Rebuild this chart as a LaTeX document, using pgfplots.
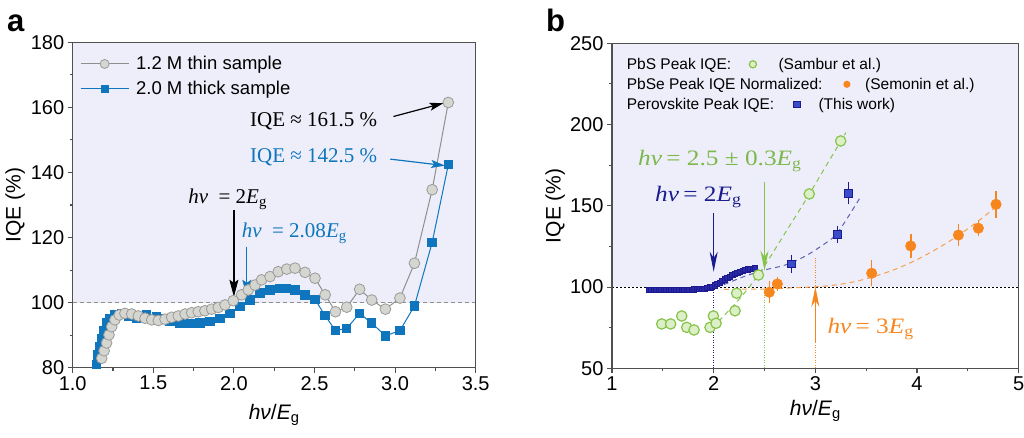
\documentclass[border=0pt]{standalone}
\usepackage{fontspec}
\setmainfont{Liberation Sans}
\newfontfamily\serif{Liberation Serif}
\usepackage{pgfplots}
\pgfplotsset{compat=1.18}
\usetikzlibrary{arrows.meta}
\definecolor{bg}{HTML}{EEEEFB}
\definecolor{axgray}{HTML}{505050}
\definecolor{grayline}{HTML}{8F8F8F}
\definecolor{grayfill}{HTML}{D5D6D0}
\definecolor{grayedge}{HTML}{9A9A9A}
\definecolor{blueA}{HTML}{0F75BC}
\definecolor{greenB}{HTML}{86C34B}
\definecolor{greenFill}{HTML}{DCEFC6}
\definecolor{greenT}{HTML}{7CB84A}
\definecolor{orangeB}{HTML}{F7861F}
\definecolor{navy}{HTML}{1B1B8F}
\definecolor{navyfill}{HTML}{2A2AA8}
\definecolor{blueSq}{HTML}{3B4CCB}
\newcommand{\bl}[1]{\scalebox{1.15}[1]{#1}}
\pgfplotsset{
  common/.style={
    scale only axis, anchor=south west,
    tick pos=left, tick align=outside,
    major tick length=5pt, minor tick length=3pt,
    axis line style={draw=axgray, line width=1.1pt},
    tick style={axgray, line width=1.1pt},
    axis on top,
    /pgf/number format/assume math mode=true,
    ticklabel style={font=\fontsize{20}{24}\selectfont},
    label style={font=\fontsize{21}{24}\selectfont},
    xlabel={\textit{hν}/\textit{E}\textsubscript{g}},
    ylabel={IQE (\%)},
  }
}
\begin{document}
\begin{tikzpicture}
\path[use as bounding box] (0,0) rectangle (1024pt,437pt);
% ---------------- panel a
\begin{axis}[common,
  at={(72.7pt,69.3pt)}, width=403pt, height=325.4pt,
  xmin=1, xmax=3.5, ymin=80, ymax=180,
  xtick={1,1.5,2,2.5,3,3.5}, ytick={80,100,120,140,160,180},
  minor x tick num=1, minor y tick num=1,
  xticklabel style={/pgf/number format/.cd, fixed, fixed zerofill, precision=1},
  xlabel style={at={(axis description cs:0.5,-0.159)}, anchor=base},
  ylabel style={at={(axis description cs:-0.143,0.5)}, anchor=center},
  legend style={at={(axis description cs:0.018,0.957)}, anchor=north west, draw=none, fill=none,
    font=\fontsize{18.5}{22}\selectfont, inner sep=0pt, nodes={inner sep=0pt}, column sep=7pt, row sep=10pt},
  legend cell align=left,
  legend image code/.code={\draw[mark repeat=2,mark phase=2,#1] plot coordinates {(0pt,0pt) (24pt,0pt) (48pt,0pt)};},
]
\fill[bg] (1,100) rectangle (3.5,180);
\draw[grayline, line width=0.9pt, dash pattern=on 4pt off 3pt] (1,100) -- (3.5,100);
\addlegendimage{grayline, line width=1pt, mark=*, mark size=4.5pt, mark options={fill=grayfill, draw=grayedge, line width=0.8pt}}
\addlegendentry{1.2 M thin sample}
\addlegendimage{blueA, line width=1pt, mark=square*, mark size=3.6pt, mark options={fill=blueA, draw=blueA}}
\addlegendentry{2.0 M thick sample}
\addplot[forget plot, blueA, line width=1pt, mark=square*, mark size=4.2pt, mark options={fill=blueA, draw=blueA}] coordinates {
(1.149,81.0)(1.155,83.9)(1.165,86.5)(1.18,89.0)(1.194,91.4)(1.21,93.7)(1.23,95.2)(1.262,96.2)(1.304,96.7)(1.345,95.7)(1.397,95.2)(1.459,96.2)(1.521,95.7)(1.562,95.0)(1.604,94.2)(1.666,93.7)(1.728,93.5)(1.79,93.7)(1.852,94.2)(1.914,95.2)(1.976,96.7)(2.038,98.8)(2.1,100.8)(2.162,102.9)(2.224,103.9)(2.286,104.4)(2.328,104.4)(2.379,103.9)(2.441,102.4)(2.503,101.0)(2.566,96.0)(2.63,91.4)(2.70,92.1)(2.78,96.7)(2.855,93.7)(2.94,89.8)(3.03,91.4)(3.12,99.0)(3.23,118.5)(3.33,142.4)
};
\addplot[forget plot, grayline, line width=1pt, mark=*, mark size=5.4pt, mark options={fill=grayfill, draw=grayedge, line width=0.8pt}] coordinates {
(1.18,82.9)(1.195,85.2)(1.21,87.6)(1.225,90.1)(1.242,92.6)(1.262,94.7)(1.289,96.2)(1.324,96.7)(1.366,96.5)(1.407,95.9)(1.449,95.2)(1.49,94.7)(1.531,94.5)(1.573,94.9)(1.614,95.5)(1.655,95.9)(1.697,96.5)(1.738,96.9)(1.779,97.2)(1.82,97.5)(1.862,98.0)(1.903,98.5)(1.945,99.3)(1.996,100.6)(2.048,102.4)(2.089,103.9)(2.131,105.4)(2.172,107.0)(2.224,108.0)(2.275,109.5)(2.328,110.3)(2.379,110.6)(2.441,109.3)(2.503,107.5)(2.566,102.4)(2.63,97.2)(2.70,98.6)(2.78,104.1)(2.855,100.8)(2.94,98.0)(3.03,101.4)(3.12,112.1)(3.23,134.7)(3.33,161.5)
};
\draw[line width=1.2pt, -{Stealth[length=17pt,width=9pt,inset=3pt]}] (2,128.5) -- (2,101.8);
\draw[blueA, line width=1pt, -{Stealth[length=17pt,width=9pt,inset=3pt]}] (2.08,117.2) -- (2.08,101.8);
\draw[line width=1.2pt, -{Stealth[length=14pt,width=8pt,inset=3pt]}] (2.99,157.2) -- (3.30,161.3);
\draw[blueA, line width=1.2pt, -{Stealth[length=14pt,width=8pt,inset=3pt]}] (2.97,144.1) -- (3.31,142.1);
\node[anchor=base west, inner sep=0pt, font=\fontsize{21}{24}\serif] at (2.10,154.2) {IQE ≈ 161.5 \%};
\node[anchor=base west, inner sep=0pt, blueA, font=\fontsize{21}{24}\serif] at (2.10,143.1) {IQE ≈ 142.5 \%};
\node[anchor=base west, inner sep=0pt, font=\fontsize{21}{24}\serif] at (1.716,130.6) {\textit{hν}\ \ = 2\textit{E}\textsubscript{g}};
\node[anchor=base west, inner sep=0pt, blueA, font=\fontsize{21}{24}\serif] at (2.048,120.1) {\textit{hν}\ \ = 2.08\textit{E}\textsubscript{g}};
\end{axis}
% ---------------- panel b
\begin{axis}[common,
  at={(612pt,68.7pt)}, width=406.7pt, height=325pt,
  xmin=1, xmax=5, ymin=50, ymax=250,
  xtick={1,2,3,4,5}, ytick={50,100,150,200,250},
  minor x tick num=1, minor y tick num=1,
  xlabel style={at={(axis description cs:0.5,-0.1437)}, anchor=base},
  ylabel style={at={(axis description cs:-0.140,0.5)}, anchor=center},
]
\fill[bg] (1,100) rectangle (5,250);
\draw[black, line width=1.1pt, dash pattern=on 1.5pt off 2.5pt] (1,100) -- (5,100);
\draw[navy, line width=0.6pt, dash pattern=on 1pt off 1.5pt] (2,50) -- (2,101);
\draw[greenB, line width=0.6pt, dash pattern=on 1pt off 1.5pt] (2.5,50) -- (2.5,100);
\draw[orangeB, line width=0.6pt, dash pattern=on 1pt off 1.5pt] (3,50) -- (3,118);
% fits
\addplot[greenB, line width=1pt, dash pattern=on 5pt off 4pt, smooth] coordinates {
(2.05,79)(2.2,89)(2.35,100)(2.5,113)(2.7,133)(2.9,153)(3.1,174)(3.3,195)};
\addplot[navy!70, line width=1pt, dash pattern=on 5pt off 4pt, smooth] coordinates {
(2.1,101.5)(2.3,106.5)(2.5,110.5)(2.7,113.5)(2.9,119)(3.1,127)(3.2,132)(3.3,141)(3.44,155)};
\addplot[orangeB!80, line width=1pt, dash pattern=on 5pt off 4pt, smooth] coordinates {
(2.1,98.6)(2.5,98.8)(2.8,99.6)(3.0,100.1)(3.2,101.3)(3.4,103.5)(3.6,106.9)(3.8,111.3)(4.0,116.9)(4.2,123.7)(4.4,131.5)(4.6,140.5)(4.8,150.5)};
% dense perovskite curve
\addplot[navy, line width=1pt, mark=square*, mark size=2.6pt, mark options={fill=navyfill, draw=navy}] coordinates {
(1.36,98.3)(1.385,98.3)(1.41,98.2)(1.435,98.2)(1.46,98.3)(1.485,98.3)(1.51,98.3)(1.535,98.2)(1.56,98.2)(1.585,98.2)(1.61,98.2)(1.635,98.2)(1.66,98.3)(1.685,98.3)(1.71,98.3)(1.735,98.3)(1.76,98.3)(1.785,98.4)(1.81,98.5)(1.835,98.6)(1.86,98.7)(1.885,98.8)(1.91,99.0)(1.935,99.3)(1.96,99.7)(1.985,100.2)(2.01,100.9)(2.035,101.8)(2.06,102.7)(2.085,103.6)(2.11,104.6)(2.135,105.5)(2.16,106.4)(2.185,107.2)(2.21,108.0)(2.235,108.7)(2.26,109.3)(2.285,109.9)(2.31,110.4)(2.335,110.8)(2.36,111.1)(2.385,111.3)(2.41,111.4)};
% PbS
\addplot[only marks, mark=*, mark size=5.2pt, mark options={fill=greenFill, draw=greenB, line width=1.2pt}] coordinates {
(1.489,77.3)(1.577,77.3)(1.686,82.2)(1.735,75.2)(1.807,73.6)(1.964,75.2)(1.997,82.2)(2.023,77.7)(2.21,85.4)(2.226,96.2)(2.44,107.4)(2.94,157.3)(3.249,189.9)};
% PbSe
\addplot[only marks, mark=*, mark size=5.3pt, mark options={fill=orangeB, draw=orangeB},
  error bars/.cd, y dir=both, y explicit, error bar style={orangeB, line width=1.6pt},
  error mark options={orangeB, line width=1.6pt, mark size=5pt}] coordinates {
(2.547,96.8) +- (0,3.8) (2.626,101.9) +- (0,1) (3.554,108.5) +- (0,4.8) (3.938,125.3) +- (0,4.4) (4.407,132.0) +- (0,3.8) (4.603,136.2) +- (0,2) (4.777,150.9) +- (0,5.3)};
% Perovskite peak
\addplot[only marks, mark=square*, mark size=3.8pt, mark options={fill=blueSq, draw=navy, line width=1pt},
  error bars/.cd, y dir=both, y explicit, error bar style={navy, line width=1.5pt},
  error mark options={navy, line width=1.5pt, mark size=4.5pt}] coordinates {
(2.767,114.2) +- (0,3) (3.216,132.5) +- (0,2.5) (3.324,157.7) +- (0,4)};
% arrows
\draw[navy, line width=1.3pt, -{Stealth[length=20pt,width=8pt,inset=6pt]}] (2,145.6) -- (2,109.4);
\draw[greenB, line width=1.3pt, -{Stealth[length=20pt,width=8pt,inset=6pt]}] (2.5,164.8) -- (2.5,110);
\draw[orangeB, line width=1.3pt, -{Stealth[length=20pt,width=8pt,inset=6pt]}] (3,66.4) -- (3,100.2);
\node[anchor=base west, inner sep=0pt, greenT, font=\fontsize{22}{24}\serif] at (1.256,175.1) {\bl{\textit{hν}\,= 2.5 ± 0.3\textit{E}\textsubscript{g}}};
\node[anchor=base west, inner sep=0pt, navy, font=\fontsize{22}{24}\serif] at (1.423,152.5) {\bl{\textit{hν}\,= 2\textit{E}\textsubscript{g}}};
\node[anchor=base west, inner sep=0pt, orangeB, font=\fontsize{22}{24}\serif] at (3.118,71.5) {\bl{\textit{hν}\,= 3\textit{E}\textsubscript{g}}};
\end{axis}
% legend of panel b
\node[anchor=base west, inner sep=0pt, font=\fontsize{15.5}{18}\selectfont] at (626.7pt,367.7pt)
 {\makebox[0pt][l]{PbS Peak IQE:}\hspace{126pt}\makebox[0pt]{\tikz[baseline={(0,-5pt)}]\draw[greenB, fill=greenFill, line width=1.2pt] (0,0) circle (3.6pt);}\hspace{25.6pt}(Sambur et al.)};
\node[anchor=base west, inner sep=0pt, font=\fontsize{15.5}{18}\selectfont] at (626.7pt,347.7pt)
 {\makebox[0pt][l]{PbSe Peak IQE Normalized:}\hspace{220pt}\makebox[0pt]{\tikz[baseline={(0,-5pt)}]\fill[orangeB] (0,0) circle (3.6pt);}\hspace{18.3pt}(Semonin et al.)};
\node[anchor=base west, inner sep=0pt, font=\fontsize{15.5}{18}\selectfont] at (626.7pt,327.7pt)
 {\makebox[0pt][l]{Perovskite Peak IQE:}\hspace{170pt}\makebox[0pt]{\tikz[baseline={(0,-5pt)}]\draw[navy, fill=blueSq, line width=1pt] (-3.2pt,-3.2pt) rectangle (3.2pt,3.2pt);}\hspace{21.6pt}(This work)};
\node[anchor=base west, inner sep=0pt, font=\fontsize{31}{31}\selectfont\bfseries] at (7pt,405pt) {a};
\node[anchor=base west, inner sep=0pt, font=\fontsize{31}{31}\selectfont\bfseries] at (546pt,405pt) {b};
\end{tikzpicture}
\end{document}
